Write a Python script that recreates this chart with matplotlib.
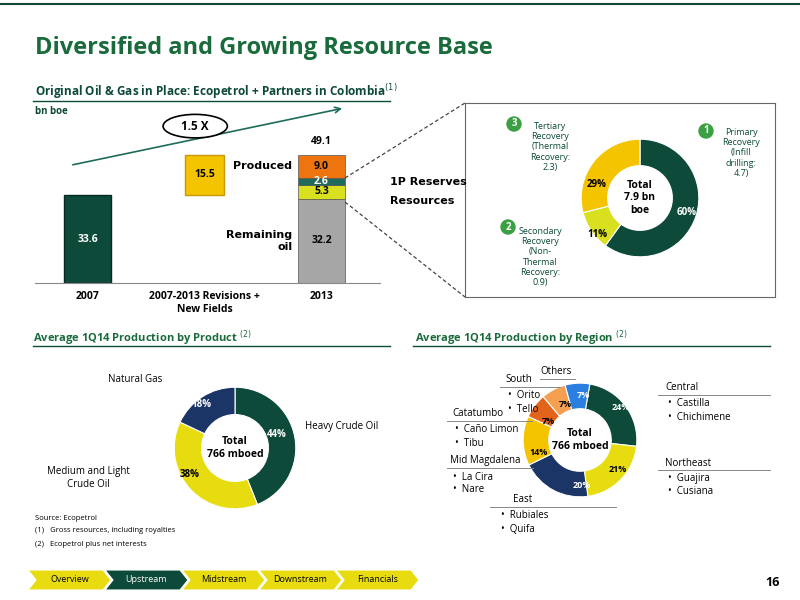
import matplotlib
matplotlib.use("Agg")
import matplotlib.pyplot as plt
from matplotlib.patches import Polygon, Ellipse
from matplotlib.lines import Line2D

plt.rcParams['font.family'] = ['Open Sans', 'DejaVu Sans']

DKGREEN = '#0d4a3a'
TITLEGREEN = '#1a6b3c'
YELLOW = '#f5c400'
LIME = '#d8e020'
ORANGE = '#ee7410'
GREY = '#a6a6a6'
NAVY = '#1a3566'

# bar chart data
bar_cats = ['2007', '2007-2013 Revisions +\nNew Fields', '2013']
base_2007 = 33.6
revisions = 15.5
stack_2013 = [32.2, 5.3, 2.6, 9.0]
stack_colors = [GREY, LIME, '#1f6b5a', ORANGE]

# recovery donut
rec_vals = [60, 11, 29]
rec_colors = [DKGREEN, LIME, YELLOW]

# product donut
prod_names = ['Heavy Crude Oil', 'Medium and Light\nCrude Oil', 'Natural Gas']
prod_vals = [44, 38, 18]
prod_colors = [DKGREEN, '#e6dc10', NAVY]

# region donut
reg_names = ['Central', 'Northeast', 'East', 'Mid Magdalena', 'Catatumbo', 'South', 'Others']
reg_vals = [24, 21, 20, 14, 7, 7, 7]
reg_colors = [DKGREEN, '#e6dc10', NAVY, YELLOW, '#e2641a', '#f5a050', '#2a7fe0']

nav_items = ['Overview', 'Upstream', 'Midstream', 'Downstream', 'Financials']

fig = plt.figure(figsize=(8, 6), dpi=100)
W, H = 800.0, 600.0


def px(x, y, w, h):
    return [x / W, 1 - (y + h) / H, w / W, h / H]


def ftext(x, y, s, **kw):
    fig.text(x / W, 1 - y / H, s, **kw)


def fline(xs, ys, **kw):
    fig.add_artist(Line2D([x / W for x in xs], [1 - y / H for y in ys], transform=fig.transFigure, **kw))


def donut(rect, vals, colors, start, ring, labels, center_txt, fs=7):
    a = fig.add_axes(rect)
    a.pie(vals, colors=colors, startangle=start, counterclock=False,
          wedgeprops=dict(width=ring, edgecolor='white', lw=0.8))
    a.set_xlim(-1.02, 1.02)
    a.set_ylim(-1.02, 1.02)
    a.set_aspect('equal')
    for v, (x, y), c in zip(vals, *labels):
        a.text(x, y, f'{v}%', ha='center', va='center', fontsize=fs, fontweight='bold', color=c)
    a.text(0, 0, center_txt, ha='center', va='center', fontsize=7.5, fontweight='bold')
    return a


# header
fline([0, 800], [4, 4], color=DKGREEN, lw=1.5)
ftext(35, 48, 'Diversified and Growing Resource Base', fontsize=17, fontweight='bold', color=TITLEGREEN, va='center')
ftext(35, 92, 'Original Oil & Gas in Place: Ecopetrol + Partners in Colombia$^{(1)}$', fontsize=8.5,
      fontweight='bold', color=DKGREEN, va='center')
fline([33, 390], [101, 101], color=DKGREEN, lw=1)
ftext(35, 112, 'bn boe', fontsize=7, fontweight='bold', color=DKGREEN, va='center')

# bar chart
ax = fig.add_axes(px(35, 100, 345, 183))
ax.bar(0, base_2007, width=0.4, color=DKGREEN, edgecolor='#062a20')
ax.text(0, base_2007 / 2, f'{base_2007}', ha='center', va='center', color='white', fontsize=7.5, fontweight='bold')
ax.bar(1, revisions, bottom=base_2007, width=0.33, color=YELLOW, edgecolor='#c89a00')
ax.text(1, base_2007 + revisions / 2, f'{revisions}', ha='center', va='center', fontsize=7.5, fontweight='bold')
bottom = 0
for v, c in zip(stack_2013, stack_colors):
    ax.bar(2, v, bottom=bottom, width=0.4, color=c, edgecolor='#555555', lw=0.5)
    tc = 'white' if c == '#1f6b5a' else 'black'
    ax.text(2, bottom + v / 2, f'{v}', ha='center', va='center', fontsize=7.5, fontweight='bold', color=tc)
    bottom += v
ax.text(2, bottom + 3, f'{bottom:.1f}', ha='center', va='bottom', fontsize=7.5, fontweight='bold')
ax.text(1.75, stack_2013[0] + stack_2013[1] + stack_2013[2] + 4.5, 'Produced', ha='right', va='center',
        fontsize=8, fontweight='bold', family='DejaVu Sans')
ax.text(1.75, 16, 'Remaining\noil', ha='right', va='center', fontsize=8, fontweight='bold', family='DejaVu Sans')
ax.set_xlim(-0.45, 2.5)
ax.set_ylim(0, 70)
ax.set_xticks([0, 1, 2])
ax.set_xticklabels(bar_cats, fontsize=7.5, fontweight='bold')
ax.set_yticks([])
for s in ['top', 'right', 'left']:
    ax.spines[s].set_visible(False)
ax.spines['bottom'].set_color('#888888')
ax.tick_params(axis='x', length=0, pad=6)
ax.annotate('', xy=(2.2, 67), xytext=(-0.15, 45),
            arrowprops=dict(arrowstyle='->', color='#1f6b5a', lw=1.2))
ax.add_patch(Ellipse((0.92, 60), 0.55, 9, facecolor='white', edgecolor='black', lw=1.2, zorder=3))
ax.text(0.92, 60, '1.5 X', ha='center', va='center', fontsize=8.5, fontweight='bold', zorder=4)
ftext(390, 182, '1P Reserves', fontsize=8, fontweight='bold', va='center', family='DejaVu Sans')
ftext(390, 201, 'Resources', fontsize=8, fontweight='bold', va='center', family='DejaVu Sans')

# dashed connectors
fline([345, 465], [178, 103], color='#444444', lw=0.9, ls=(0, (3, 2)))
fline([345, 465], [202, 297], color='#444444', lw=0.9, ls=(0, (3, 2)))

# recovery box and donut
bx = fig.add_axes(px(465, 103, 310, 194))
bx.set_xticks([]); bx.set_yticks([])
bx.patch.set_alpha(0)
for s in bx.spines.values():
    s.set_color('#666666'); s.set_linewidth(0.8)
donut(px(580, 138, 120, 120), rec_vals, rec_colors, 90, 0.45,
      ([(0.8, -0.25), (-0.72, -0.62), (-0.73, 0.23)], ['white', 'black', 'black']),
      'Total\n7.9 bn\nboe')
for num, x, y in [('1', 706, 131), ('2', 508, 227), ('3', 514, 124)]:
    fig.add_artist(Ellipse((x / W, 1 - y / H), 14 / W, 14 / H, transform=fig.transFigure, color='#3aa043'))
    ftext(x, y, num, ha='center', va='center', fontsize=7, fontweight='bold', color='white')
ftext(741, 153, 'Primary\nRecovery\n(Infill\ndrilling:\n4.7)', ha='center', va='center', fontsize=6.5, color=DKGREEN)
ftext(540, 257, 'Secondary\nRecovery\n(Non-\nThermal\nRecovery:\n0.9)', ha='center', va='center', fontsize=6.5, color=DKGREEN)
ftext(550, 147, 'Tertiary\nRecovery\n(Thermal\nRecovery:\n2.3)', ha='center', va='center', fontsize=6.5, color=DKGREEN)

# section titles
ftext(33, 338, 'Average 1Q14 Production by Product $^{(2)}$', fontsize=8, fontweight='bold', color=TITLEGREEN, va='center')
fline([33, 390], [346, 346], color=DKGREEN, lw=1)
ftext(415, 338, 'Average 1Q14 Production by Region $^{(2)}$', fontsize=8, fontweight='bold', color=TITLEGREEN, va='center')
fline([413, 770], [346, 346], color=DKGREEN, lw=1)

# product donut
donut(px(173, 386, 124, 124), prod_vals, prod_colors, 90, 0.45,
      ([(0.68, 0.22), (-0.74, -0.44), (-0.55, 0.72)], ['white', 'black', 'white']),
      'Total\n766 mboed')
ftext(305, 427, prod_names[0], fontsize=7, va='center')
ftext(88, 478, prod_names[1], fontsize=7, va='center', ha='center')
ftext(135, 379, prod_names[2], fontsize=7, va='center', ha='center')

# region donut
donut(px(522, 382, 116, 116), reg_vals, reg_colors, 80, 0.45,
      ([(0.72, 0.58), (0.66, -0.52), (0.03, -0.8), (-0.72, -0.22), (-0.55, 0.33), (-0.26, 0.62), (0.05, 0.78)],
       ['white', 'black', 'white', 'black', 'black', 'black', 'white']),
      'Total\n766 mboed', fs=6.5)

reg_labels = [
    ('Central', 665, 388, ['Castilla', 'Chichimene'], 658, 770, 'left'),
    ('Northeast', 665, 463, ['Guajira', 'Cusiana'], 658, 770, 'left'),
    ('East', 523, 500, ['Rubiales', 'Quifa'], 490, 616, 'center'),
    ('Mid Magdalena', 450, 461, ['La Cira', 'Nare'], 447, 533, 'left'),
    ('Catatumbo', 452, 414, ['Caño Limon', 'Tibu'], 447, 532, 'left'),
    ('South', 505, 380, ['Orito', 'Tello'], 500, 560, 'left'),
    ('Others', 540, 372, [], 540, 575, 'left'),
]
for name, x, y, subs, l0, l1, ha in reg_labels:
    ftext(x, y, name, fontsize=7, va='center', ha=ha)
    fline([l0, l1], [y + 7, y + 7], color='#888888', lw=0.7)
    for i, s in enumerate(subs):
        sx = x - 25 if ha == 'center' else x
        ftext(sx + 3, y + 16 + 13 * i, '•  ' + s, fontsize=7, va='center')

# footnotes
ftext(35, 518, 'Source: Ecopetrol', fontsize=5.5, va='center')
ftext(35, 531, '(1)   Gross resources, including royalties', fontsize=5.5, va='center')
ftext(35, 544, '(2)   Ecopetrol plus net interests', fontsize=5.5, va='center')

# nav chevrons
x0, w, h, y0 = 28, 75, 20, 570
for i, item in enumerate(nav_items):
    xs = x0 + i * (w + 2)
    pts = [(xs, y0), (xs + w, y0), (xs + w + 8, y0 + h / 2), (xs + w, y0 + h), (xs, y0 + h), (xs + 8, y0 + h / 2)]
    col = DKGREEN if item == 'Upstream' else '#e8dc10'
    fig.add_artist(Polygon([(p[0] / W, 1 - p[1] / H) for p in pts], closed=True,
                           transform=fig.transFigure, facecolor=col, edgecolor='white', lw=0.8))
    ftext(xs + w / 2 + 4, y0 + h / 2, item, fontsize=6.5, ha='center', va='center',
          color='white' if item == 'Upstream' else 'black')
ftext(780, 583, '16', fontsize=9, fontweight='bold', ha='right', va='center')

fig.savefig('out.png', dpi=100)
